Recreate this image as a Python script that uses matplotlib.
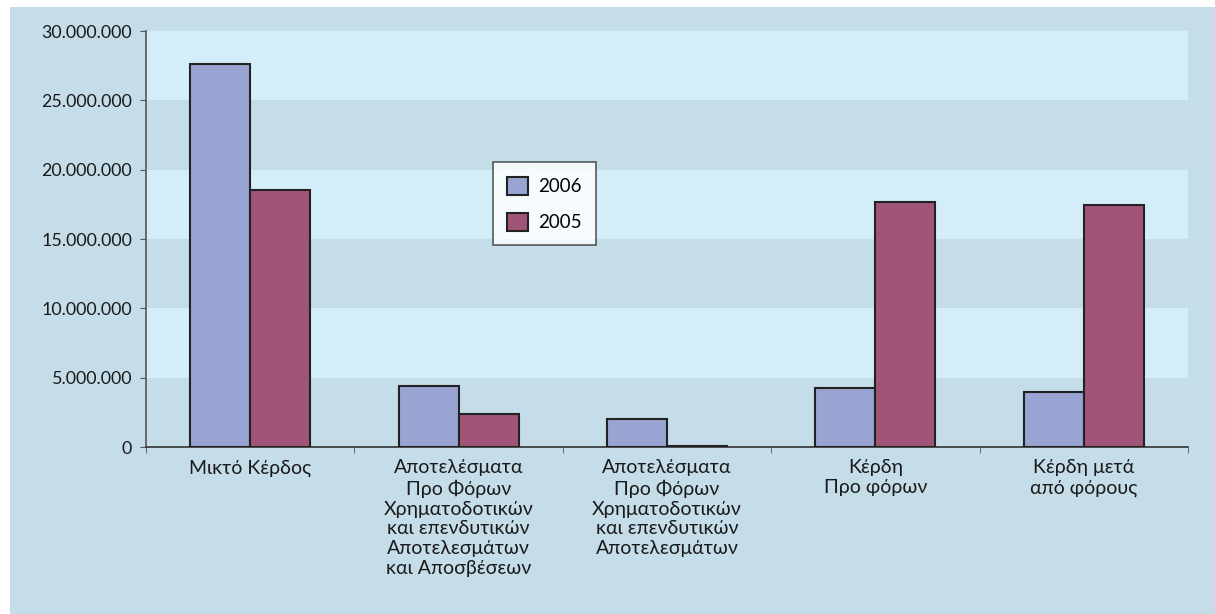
import numpy as np
import matplotlib.pyplot as plt
from matplotlib.patches import Rectangle
from matplotlib.ticker import FuncFormatter

# ---------------- DATA ----------------
categories = [
    "Μικτό Κέρδος",
    "Αποτελέσματα\nΠρο Φόρων\nΧρηματοδοτικών\nκαι επενδυτικών\nΑποτελεσμάτων\nκαι Αποσβέσεων",
    "Αποτελέσματα\nΠρο Φόρων\nΧρηματοδοτικών\nκαι επενδυτικών\nΑποτελεσμάτων",
    "Κέρδη\nΠρο φόρων",
    "Κέρδη μετά\nαπό φόρους",
]
values_2006 = [27600000, 4420000, 2050000, 4250000, 3990000]
values_2005 = [18500000, 2400000, 100000, 17700000, 17450000]
series_names = ["2006", "2005"]
yticks = [0, 5000000, 10000000, 15000000, 20000000, 25000000, 30000000]

# ---------------- STYLE ----------------
plt.rcParams['font.family'] = ['Lato', 'DejaVu Sans']
bg = "#c5dde9"
band = "#d4eef9"
c2006 = "#99a4d3"
c2005 = "#a05578"
edge = "#222222"

fig = plt.figure(figsize=(12.15, 6.14), dpi=100)
fig.patch.set_facecolor("white")
fig.patches.append(Rectangle((10 / 1215, 0), 1 - 10 / 1215, 1 - 7 / 614,
                             transform=fig.transFigure, facecolor=bg,
                             edgecolor="none", zorder=-10))

ax = fig.add_axes([146 / 1215, 1 - 447 / 614, 1042 / 1215, 416 / 614])
ax.set_facecolor(bg)

# alternating bands
for i in range(len(yticks) - 1):
    if i % 2 == 1:
        ax.axhspan(yticks[i], yticks[i + 1], color=band, zorder=0, lw=0)

x = np.arange(len(categories))
w = 0.288
ax.bar(x - w / 2, values_2006, w, color=c2006, edgecolor=edge, lw=1.5,
       label=series_names[0], zorder=3)
ax.bar(x + w / 2, values_2005, w, color=c2005, edgecolor=edge, lw=1.5,
       label=series_names[1], zorder=3)

ax.set_xlim(-0.5, len(categories) - 0.5)
ax.set_ylim(0, 30000000)
ax.set_yticks(yticks)
ax.yaxis.set_major_formatter(FuncFormatter(lambda v, p: f"{int(v):,}".replace(",", ".")))
ax.tick_params(axis="y", labelsize=12.9, length=4, color="#555555", pad=6,
               labelcolor="#1a1a1a")

ax.set_xticks(x)
ax.set_xticklabels(categories, fontsize=14, color="#1a1a1a", linespacing=1.2)
ax.tick_params(axis="x", length=0, pad=9)
ax.set_xticks(np.arange(len(categories) + 1) - 0.5, minor=True)
ax.tick_params(axis="x", which="minor", length=4, color="#555555")

for s in ["top", "right"]:
    ax.spines[s].set_visible(False)
ax.spines["left"].set_color("#555555")
ax.spines["left"].set_linewidth(1.2)
ax.spines["bottom"].set_color("#333333")
ax.spines["bottom"].set_linewidth(1.2)

leg = ax.legend(loc="upper left", bbox_to_anchor=(0.333, 0.684), fontsize=13.5,
                frameon=True, fancybox=False, edgecolor="#333333",
                handlelength=1.1, handleheight=1.1, labelspacing=0.95,
                borderpad=0.75, handletextpad=0.55, borderaxespad=0)
leg.get_frame().set_linewidth(1.2)

fig.savefig("out.png", dpi=100, facecolor=fig.get_facecolor())
